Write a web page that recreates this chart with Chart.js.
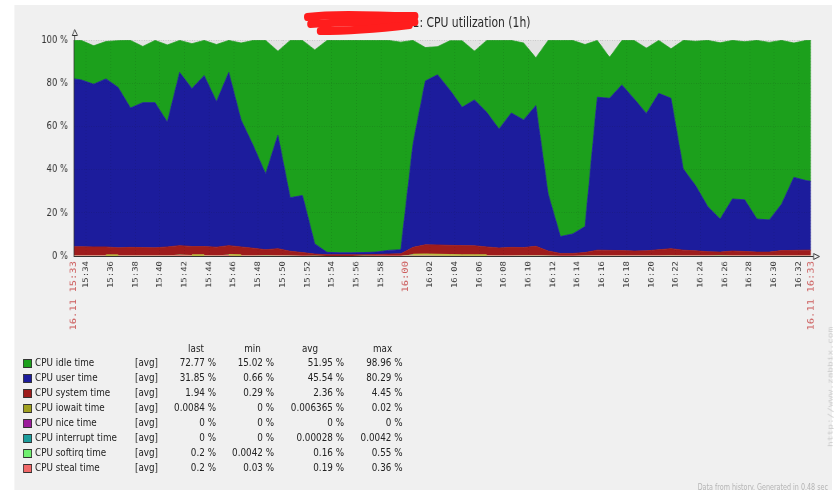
<!DOCTYPE html>
<html>
<head>
<meta charset="utf-8">
<script src="https://cdn.jsdelivr.net/npm/chart.js@4/dist/chart.umd.min.js"></script>
<style>
html,body{margin:0;padding:0;background:#fff;width:837px;height:490px;overflow:hidden}
#stage{position:absolute;left:0;top:0;width:1046.25px;height:490px;transform:scaleX(0.8);transform-origin:0 0;font-family:"DejaVu Sans",sans-serif;color:#222}
#panel{position:absolute;left:17.5px;top:5px;width:1022px;height:485px;background:#f0f0f0;z-index:0}
#wrap{position:absolute;left:0;top:0;width:1046.25px;height:490px;z-index:1}
.t{position:absolute;white-space:nowrap;z-index:2}
#scribble{position:absolute;left:0;top:0;width:1046.25px;height:60px;z-index:3;pointer-events:none}
</style>
</head>
<body>
<div id="stage">
  <div id="panel"></div>
  <div id="wrap"><canvas id="c"></canvas></div>
  <svg id="scribble" viewBox="0 0 1046.25 60" preserveAspectRatio="none">
    <g fill="none" stroke="#ff1d1d" stroke-width="8" stroke-linecap="round" stroke-linejoin="round">
      <path d="M384,17 C430,12 480,17 519,16"/>
      <path d="M388,24 C440,21 485,22 519,22"/>
      <path d="M400,31 C440,31 480,28 512,25"/>
    </g>
  </svg>
</div>
<script>
// ---------------- data ----------------
const titleText = 'web-portal1: CPU utilization (1h)';

// sample times, seconds after 16.11 15:33:00
const sampleSeconds = [0, 36, 96, 156, 216, 276, 336, 396, 456, 516,
  576, 636, 696, 756, 816, 876, 936, 996, 1056, 1116,
  1176, 1236, 1296, 1356, 1416, 1476, 1536, 1596, 1656, 1716,
  1776, 1836, 1896, 1956, 2016, 2076, 2136, 2196, 2256, 2316,
  2376, 2436, 2496, 2556, 2616, 2676, 2736, 2796, 2856, 2916,
  2976, 3036, 3096, 3156, 3216, 3276, 3336, 3396, 3456, 3516,
  3576, 3600];

const idleTime = [17.8, 18.3, 17.8, 17.3, 21.7, 31.3, 26.0, 28.8, 35.7, 14.8,
  20.8, 16.3, 26.4, 14.8, 35.6, 48.8, 61.8, 38.8, 72.8, 71.8,
  89.8, 98.1, 98.3, 98.4, 98.2, 98.0, 97.2, 96.1, 47.8, 15.5,
  13.0, 22.8, 30.8, 22.6, 33.3, 41.0, 33.6, 35.6, 22.2, 71.1,
  90.8, 89.6, 84.3, 26.3, 19.0, 20.6, 27.1, 30.2, 24.5, 22.9,
  59.5, 66.8, 77.0, 81.6, 73.4, 73.2, 82.7, 82.2, 75.8, 62.2,
  64.9, 65.2];

const userTime = [77.7, 77.2, 75.3, 77.8, 74.2, 64.5, 67.1, 67.2, 57.8, 80.2,
  73.1, 79.1, 67.4, 80.2, 58.8, 47.4, 35.1, 52.6, 24.8, 26.4,
  4.7, 1.1, 0.9, 0.9, 1.0, 1.1, 1.7, 1.9, 48.0, 75.8,
  78.8, 71.9, 64.0, 67.5, 62.3, 55.1, 62.2, 59.1, 65.1, 26.4,
  7.8, 9.0, 12.0, 70.8, 70.4, 76.7, 70.4, 63.6, 72.4, 69.6,
  37.6, 30.2, 20.8, 15.3, 24.1, 23.9, 15.3, 14.9, 21.5, 33.8,
  32.2, 31.9];

const systemTime = [3.95, 3.95, 3.82, 3.81, 3.41, 3.60, 3.54, 3.46, 3.82, 4.25,
  3.99, 3.98, 3.76, 4.21, 3.81, 3.25, 2.61, 3.06, 1.95, 1.44,
  0.83, 0.55, 0.55, 0.56, 0.54, 0.62, 0.78, 0.85, 3.33, 4.38,
  4.45, 4.40, 4.36, 4.30, 3.79, 3.33, 3.61, 3.48, 4.07, 2.03,
  1.04, 1.04, 1.40, 2.35, 2.23, 2.12, 1.95, 2.05, 2.51, 2.97,
  2.34, 2.06, 1.68, 1.50, 1.95, 1.77, 1.49, 1.48, 2.12, 2.21,
  2.30, 2.30];

const iowaitTime = [0, 0, 0, 0.01, 0.01, 0, 0, 0, 0, 0,
  0.01, 0.02, 0, 0.01, 0.01, 0, 0, 0, 0, 0,
  0, 0, 0, 0, 0, 0, 0, 0, 0.02, 0.02,
  0.01, 0.02, 0.01, 0.01, 0.01, 0, 0, 0, 0, 0,
  0, 0, 0, 0, 0, 0, 0, 0, 0, 0,
  0, 0, 0, 0, 0, 0, 0, 0, 0, 0,
  0, 0];

const niceTime = [0, 0, 0, 0, 0, 0, 0, 0, 0, 0,
  0, 0, 0, 0, 0, 0, 0, 0, 0, 0,
  0, 0, 0, 0, 0, 0, 0, 0, 0, 0,
  0, 0, 0, 0, 0, 0, 0, 0, 0, 0,
  0, 0, 0, 0, 0, 0, 0, 0, 0, 0,
  0, 0, 0, 0, 0, 0, 0, 0, 0, 0,
  0, 0];

const interruptTime = [0, 0, 0, 0, 0, 0, 0, 0, 0, 0,
  0, 0, 0, 0, 0, 0, 0, 0, 0, 0,
  0, 0, 0, 0, 0, 0, 0, 0, 0, 0,
  0, 0, 0, 0, 0, 0, 0, 0, 0, 0,
  0, 0, 0, 0, 0, 0, 0, 0, 0, 0,
  0, 0, 0, 0, 0, 0, 0, 0, 0, 0,
  0, 0];

const softirqTime = [0.15, 0.15, 0.16, 0.2, 0.18, 0.15, 0.16, 0.15, 0.17, 0.25,
  0.2, 0.18, 0.16, 0.22, 0.18, 0.15, 0.12, 0.14, 0.1, 0.06,
  0.02, 0.004, 0.01, 0.01, 0.01, 0.02, 0.04, 0.05, 0.45, 0.55,
  0.4, 0.3, 0.25, 0.22, 0.2, 0.18, 0.19, 0.2, 0.22, 0.12,
  0.06, 0.06, 0.08, 0.15, 0.16, 0.16, 0.15, 0.16, 0.18, 0.2,
  0.16, 0.15, 0.14, 0.13, 0.15, 0.14, 0.13, 0.14, 0.18, 0.19,
  0.2, 0.2];

const stealTime = [0.2, 0.2, 0.22, 0.18, 0.2, 0.25, 0.2, 0.19, 0.21, 0.3,
  0.2, 0.22, 0.18, 0.36, 0.2, 0.2, 0.17, 0.2, 0.15, 0.1,
  0.05, 0.03, 0.04, 0.03, 0.05, 0.06, 0.08, 0.1, 0.2, 0.25,
  0.24, 0.22, 0.2, 0.21, 0.2, 0.19, 0.2, 0.22, 0.21, 0.15,
  0.1, 0.1, 0.12, 0.2, 0.21, 0.22, 0.2, 0.19, 0.21, 0.23,
  0.2, 0.19, 0.18, 0.17, 0.2, 0.19, 0.18, 0.18, 0.2, 0.2,
  0.2, 0.2];

// x-axis tick labels
const tickTimes = ['15:33', '15:34', '15:36', '15:38', '15:40', '15:42', '15:44', '15:46', '15:48', '15:50',
  '15:52', '15:54', '15:56', '15:58', '16:00', '16:02', '16:04', '16:06', '16:08', '16:10',
  '16:12', '16:14', '16:16', '16:18', '16:20', '16:22', '16:24', '16:26', '16:28', '16:30',
  '16:32', '16:33'];
const tickLabels = ['16.11 15:33', '15:34', '15:36', '15:38', '15:40', '15:42', '15:44', '15:46', '15:48', '15:50',
  '15:52', '15:54', '15:56', '15:58', '16:00', '16:02', '16:04', '16:06', '16:08', '16:10',
  '16:12', '16:14', '16:16', '16:18', '16:20', '16:22', '16:24', '16:26', '16:28', '16:30',
  '16:32', '16.11 16:33'];
const redTicks = ['15:33', '16:00', '16:33'];

// legend table
const legendNames = ['CPU idle time', 'CPU user time', 'CPU system time', 'CPU iowait time',
  'CPU nice time', 'CPU interrupt time', 'CPU softirq time', 'CPU steal time'];
const legendColors = ['#1ca01c', '#1c1c9c', '#9e1c1c', '#a0a020', '#9c1c9c', '#1c9c9c', '#70f070', '#f06868'];
const legendLast = ['72.77 %', '31.85 %', '1.94 %', '0.0084 %', '0 %', '0 %', '0.2 %', '0.2 %'];
const legendMin = ['15.02 %', '0.66 %', '0.29 %', '0 %', '0 %', '0 %', '0.0042 %', '0.03 %'];
const legendAvg = ['51.95 %', '45.54 %', '2.36 %', '0.006365 %', '0 %', '0.00028 %', '0.16 %', '0.19 %'];
const legendMax = ['98.96 %', '80.29 %', '4.45 %', '0.02 %', '0 %', '0.0042 %', '0.55 %', '0.36 %'];
const legendHeaders = ['last', 'min', 'avg', 'max'];

// ---------------- layout ----------------
const S = 0.8;            // horizontal squeeze of the stage
const W = 837 / S;
const stage = document.getElementById('stage');

function put(text, x, cy, align, css) {
  const d = document.createElement('div');
  d.className = 't';
  d.textContent = text;
  const lh = (css && css.lh) || 14;
  d.style.lineHeight = lh + 'px';
  d.style.top = (cy - lh / 2) + 'px';
  if (align === 'right') d.style.right = (W - x / S) + 'px';
  else if (align === 'center') { d.style.left = (x / S) + 'px'; d.style.transform = 'translateX(-50%)'; }
  else d.style.left = (x / S) + 'px';
  if (css) for (const k in css) if (k !== 'lh') d.style[k] = css[k];
  stage.appendChild(d);
  return d;
}

// title
put(titleText, 530.5, 21.5, 'right', {fontSize: '13.5px', color: '#2a2a2a', lh: 16});

// legend
const headerX = [196, 252.5, 310, 382.5];
legendHeaders.forEach((h, i) => put(h, headerX[i], 348.5, 'center', {fontSize: '11px'}));
const colRight = [216, 274, 344, 402.5];
legendNames.forEach((name, r) => {
  const cy = 363.3 + r * 15;
  const sq = document.createElement('div');
  sq.style.cssText = 'position:absolute;z-index:2;box-sizing:border-box;border:1px solid #333;';
  sq.style.left = (23 / S) + 'px';
  sq.style.width = (9 / S) + 'px';
  sq.style.top = (cy - 4.5) + 'px';
  sq.style.height = '9px';
  sq.style.background = legendColors[r];
  stage.appendChild(sq);
  put(name, 35, cy, 'left', {fontSize: '11px'});
  put('[avg]', 135, cy, 'left', {fontSize: '11px'});
  [legendLast, legendMin, legendAvg, legendMax].forEach((col, c) => put(col[r], colRight[c], cy, 'right', {fontSize: '11px'}));
});

// footer + vertical watermark
put('Data from history. Generated in 0.48 sec', 828, 488, 'right', {fontSize: '8px', color: '#b4b4b4', lh: 10});
const wm = document.createElement('div');
wm.className = 't';
wm.textContent = 'http://www.zabbix.com';
wm.style.cssText += 'font-family:"DejaVu Sans Mono",monospace;font-size:9.5px;line-height:10px;color:#cdcdcd;transform-origin:0 0;transform:rotate(-90deg) translate(0,-5px);';
wm.style.left = (830 / S) + 'px';
wm.style.top = '447px';
stage.appendChild(wm);

// ---------------- chart ----------------
const toSec = t => { const [h, m] = t.split(':').map(Number); return (h * 60 + m - (15 * 60 + 33)) * 60; };
const tickSecs = tickTimes.map(toSec);
const redSecs = redTicks.map(toSec);
const mk = arr => arr.map((v, i) => ({x: sampleSeconds[i], y: v}));

function series(label, arr, color, extra) {
  return Object.assign({
    label, data: mk(arr), backgroundColor: color, borderColor: 'rgba(0,0,0,0)', borderWidth: 0,
    pointRadius: 0, pointHoverRadius: 0, tension: 0, fill: '-1'
  }, extra || {});
}

const datasets = [
  series('CPU steal time', stealTime, '#f06060', {fill: 'origin'}),
  series('CPU softirq time', softirqTime, '#66ee66'),
  series('CPU interrupt time', interruptTime, '#1c9c9c'),
  series('CPU nice time', niceTime, '#9c1c9c'),
  series('CPU iowait time', iowaitTime, '#a0a020'),
  series('CPU system time', systemTime, '#9e1c1c', {borderColor: '#9e1c1c', borderWidth: 0.8}),
  series('CPU user time', userTime, '#1c1c9c', {borderColor: '#1c1c9c', borderWidth: 0.8}),
  series('CPU idle time', idleTime, '#1ca01c', {borderColor: '#1ca01c', borderWidth: 0.8})
];
const IOWAIT_INDEX = 4;

const decor = {
  id: 'decor',
  beforeDraw(chart) {
    const {ctx, chartArea: a} = chart;
    ctx.save();
    ctx.fillStyle = '#e3e3e3';
    ctx.fillRect(a.left, a.top, a.right - a.left, a.bottom - a.top);
    ctx.restore();
  },
  afterDatasetsDraw(chart) {
    // iowait drawn as a thin line on the stack wherever it is non-zero
    const pts = chart.getDatasetMeta(IOWAIT_INDEX).data;
    const {ctx} = chart;
    ctx.save();
    ctx.strokeStyle = '#bcbc44';
    ctx.lineWidth = 1.6;
    for (let i = 0; i < pts.length - 1; i++) {
      if (iowaitTime[i] > 0 && iowaitTime[i + 1] > 0) {
        ctx.beginPath(); ctx.moveTo(pts[i].x, pts[i].y); ctx.lineTo(pts[i + 1].x, pts[i + 1].y); ctx.stroke();
      }
    }
    ctx.restore();
  },
  afterDraw(chart) {
    const {ctx, chartArea: a} = chart;
    ctx.save();
    ctx.strokeStyle = '#333';
    ctx.fillStyle = '#f0f0f0';
    ctx.lineWidth = 1;
    const lx = Math.round(a.left) + 0.5;
    ctx.beginPath(); ctx.moveTo(lx, a.top); ctx.lineTo(lx, 35.5); ctx.stroke();
    ctx.beginPath();
    ctx.moveTo(lx - 2.6 / S, 35.5); ctx.lineTo(lx + 2.6 / S, 35.5); ctx.lineTo(lx, 29.5); ctx.closePath();
    ctx.fill(); ctx.stroke();
    const by = Math.round(a.bottom) + 0.5;
    const bx = 813.5 / S, tx = 819.5 / S;
    ctx.beginPath(); ctx.moveTo(a.right, by); ctx.lineTo(bx, by); ctx.stroke();
    ctx.beginPath();
    ctx.moveTo(bx, by - 3); ctx.lineTo(bx, by + 3); ctx.lineTo(tx, by); ctx.closePath();
    ctx.fill(); ctx.stroke();
    ctx.restore();
  }
};

new Chart(document.getElementById('c'), {
  type: 'line',
  data: {datasets},
  options: {
    responsive: true,
    maintainAspectRatio: false,
    animation: false,
    events: [],
    layout: {padding: {top: 40, right: W - 811 / S, left: 0, bottom: 0}},
    plugins: {legend: {display: false}, tooltip: {enabled: false}, title: {display: false}},
    scales: {
      x: {
        type: 'linear', min: 0, max: 3600,
        afterFit: s => { s.height = 490 - 256; },
        afterBuildTicks: s => { s.ticks = tickSecs.map(v => ({value: v})); },
        grid: {color: 'rgba(20,20,20,0.12)', lineWidth: 1, drawTicks: false, z: 1},
        border: {display: true, color: '#333', width: 1, z: 2, dash: [1, 2]},
        ticks: {
          autoSkip: false, maxRotation: 90, minRotation: 90, padding: 5,
          callback: v => tickLabels[tickSecs.indexOf(v)],
          color: c => redSecs.includes(c.tick && c.tick.value) ? '#cc5c5c' : '#333',
          font: c => ({family: '"DejaVu Sans Mono", monospace', size: redSecs.includes(c.tick && c.tick.value) ? 10.5 : 9})
        }
      },
      y: {
        stacked: true, min: 0, max: 100,
        afterFit: s => { s.width = 74 / S; },
        grid: {color: 'rgba(20,20,20,0.14)', lineWidth: 1, drawTicks: false, z: 1},
        border: {display: true, color: '#333', width: 1, z: 2, dash: [1, 2]},
        ticks: {
          stepSize: 20, padding: 7.5, color: '#333',
          font: {family: '"DejaVu Sans", sans-serif', size: 10.5},
          callback: v => v + ' %'
        }
      }
    }
  },
  plugins: [decor]
});
</script>
</body>
</html>
